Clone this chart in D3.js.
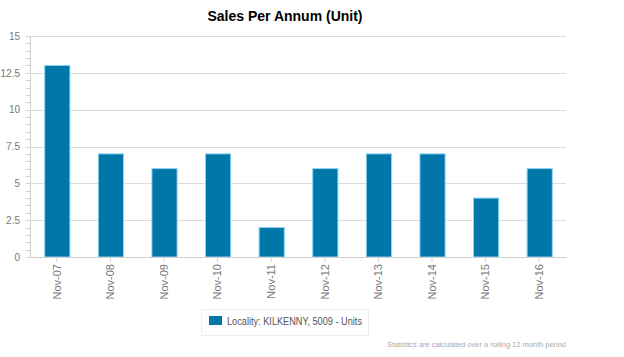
<!DOCTYPE html>
<html><head><meta charset="utf-8">
<script src="https://cdn.jsdelivr.net/npm/d3@7"></script>
<style>body{margin:0;background:#fff;font-family:"Helvetica Neue",Arial,"Liberation Sans",sans-serif;}</style>
</head><body><svg id="c" width="624" height="357"></svg>
<script>
const categories = ["Nov-07","Nov-08","Nov-09","Nov-10","Nov-11","Nov-12","Nov-13","Nov-14","Nov-15","Nov-16"];
const values = [13,7,6,7,2,6,7,7,4,6];
const yTicks = [0,2.5,5,7.5,10,12.5,15];
const seriesName = "Locality: KILKENNY, 5009 - Units";
const titleText = "Sales Per Annum (Unit)";
const footText = "Statistics are calculated over a rolling 12 month period";

const svg = d3.select("#c");
const m = {l:30, r:566, t:36, b:257};
const x = d3.scaleBand().domain(categories).range([m.l, m.r]).paddingInner(0.53).paddingOuter(0.265);
const y = d3.scaleLinear().domain([0,15]).range([m.b, m.t]);

svg.append("text").attr("x",285).attr("y",21).attr("text-anchor","middle")
  .attr("font-size",14).attr("font-weight","bold").attr("fill","#000").text(titleText);

// grid
svg.append("g").selectAll("line").data(yTicks).join("line")
  .attr("x1",m.l).attr("x2",m.r).attr("y1",d=>Math.round(y(d))+0.5).attr("y2",d=>Math.round(y(d))+0.5)
  .attr("stroke","#dcdcdc");
// minor ticks
const minor = d3.range(0,15.01,0.5);
svg.append("g").selectAll("line").data(minor).join("line")
  .attr("x1",m.l-4).attr("x2",m.l).attr("y1",d=>Math.round(y(d))+0.5).attr("y2",d=>Math.round(y(d))+0.5)
  .attr("stroke","#d0d0d0");
svg.append("line").attr("x1",m.l+0.5).attr("x2",m.l+0.5).attr("y1",m.t).attr("y2",m.b).attr("stroke","#d0d0d0");

// y labels
const yAxis = svg.append("g").attr("transform",`translate(${m.l},0)`)
  .call(d3.axisLeft(y).tickValues(yTicks).tickFormat(d3.format("")).tickSize(0).tickPadding(10));
yAxis.select(".domain").remove();
yAxis.selectAll("text").attr("fill","#777").attr("font-size",10).attr("font-family","inherit");

// bars
svg.append("g").selectAll("rect").data(values).join("rect")
  .attr("x",(d,i)=>x(categories[i])+0.5).attr("width",x.bandwidth())
  .attr("y",d=>y(d)).attr("height",d=>y(0)-y(d))
  .attr("fill","#0077a8").attr("stroke","#8fd3f2").attr("stroke-width",1);

// x axis
const xAxis = svg.append("g").attr("transform",`translate(0,${m.b})`)
  .call(d3.axisBottom(x).tickSize(5).tickSizeOuter(0));
xAxis.select(".domain").attr("stroke","#cfcfcf");
xAxis.selectAll(".tick line").attr("stroke","#cfcfcf");
xAxis.selectAll("text").attr("fill","#777").attr("font-size",11).attr("font-family","inherit")
  .attr("text-anchor","end").attr("transform","rotate(-90)").attr("x",-7).attr("y",0).attr("dy","0.35em");

// legend
const lg = svg.append("g");
lg.append("rect").attr("x",201.5).attr("y",309.5).attr("width",167).attr("height",26).attr("fill","#fff").attr("stroke","#eee");
lg.append("rect").attr("x",209).attr("y",316).attr("width",13).attr("height",9).attr("fill","#0077a8");
lg.append("text").attr("x",227).attr("y",325).attr("font-size",10.5).attr("fill","#555")
  .attr("textLength",135).attr("lengthAdjust","spacingAndGlyphs").text(seriesName);

svg.append("text").attr("x",566).attr("y",347).attr("text-anchor","end").attr("font-size",7.5).attr("fill","#aaa")
  .attr("textLength",179).attr("lengthAdjust","spacingAndGlyphs").text(footText);
</script></body></html>
